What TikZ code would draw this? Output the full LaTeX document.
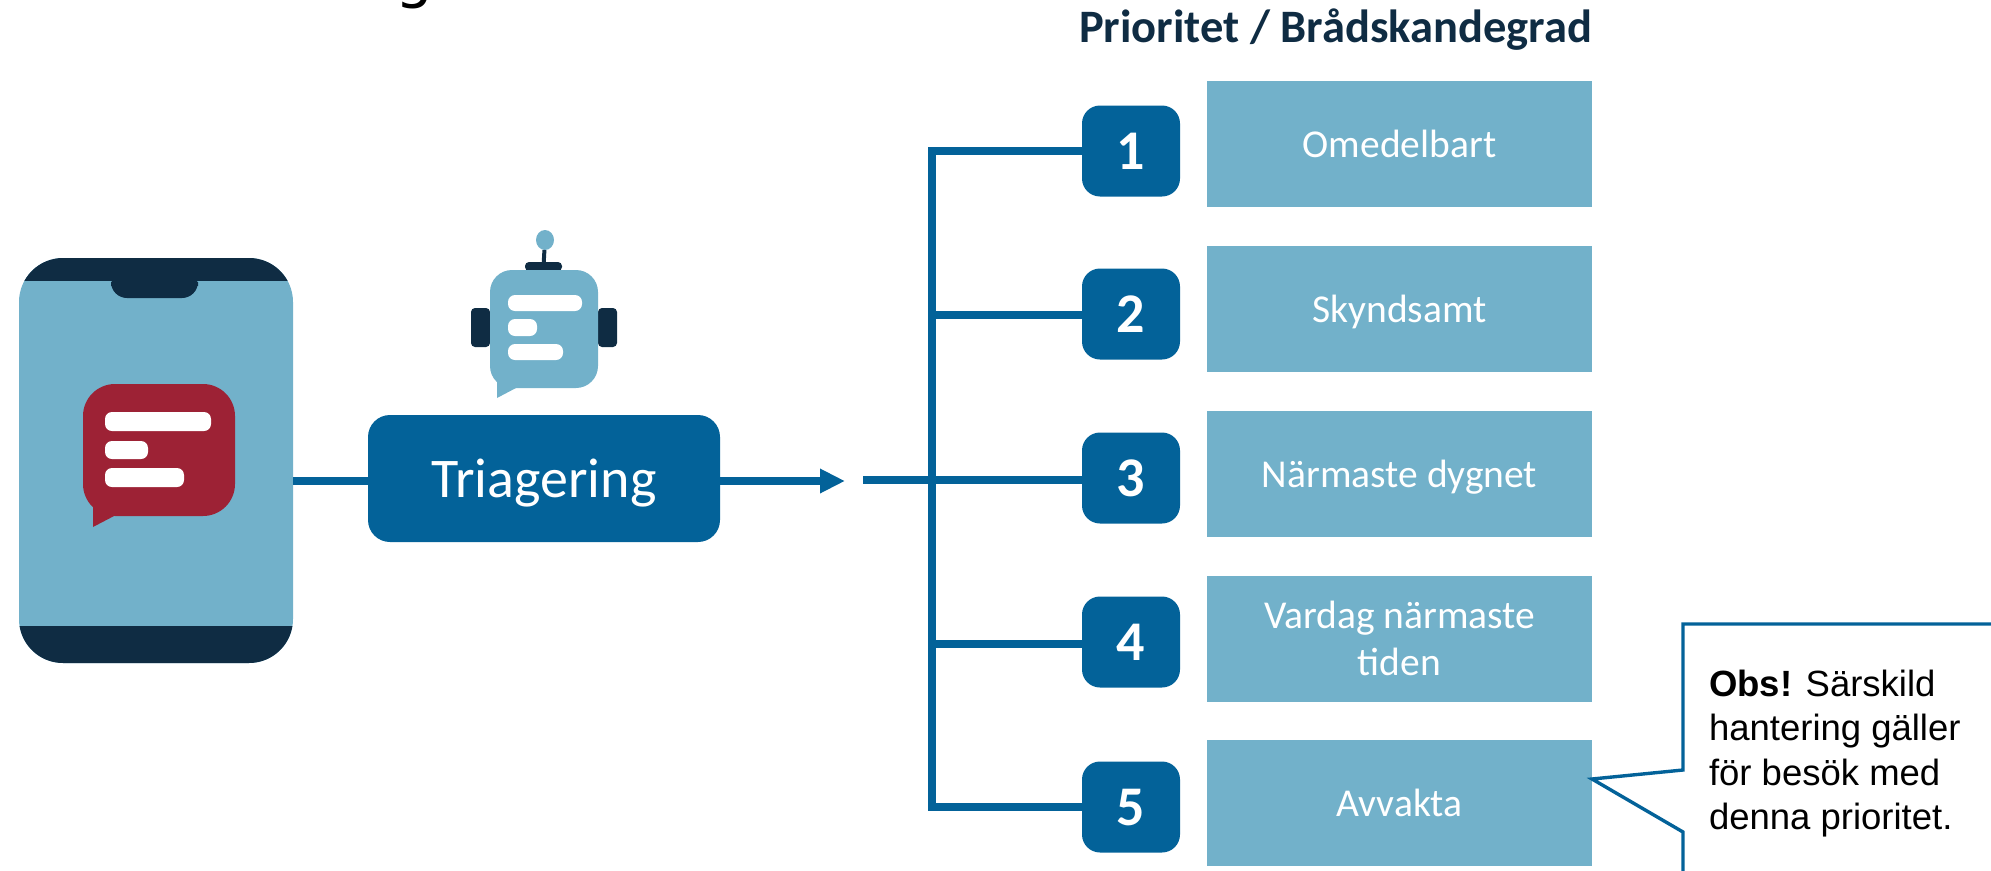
\documentclass[tikz,border=0pt]{standalone}
\usepackage{fontspec}
\setmainfont{Carlito}
\newfontfamily\noteface{Liberation Sans}
\newfontfamily\gface{DejaVu Sans}
\usepackage{xcolor}
\usetikzlibrary{arrows.meta,shapes.geometric}
\definecolor{lightblue}{HTML}{72B1CA}
\definecolor{deepblue}{HTML}{036299}
\definecolor{navy}{HTML}{0F2C43}
\definecolor{wine}{HTML}{9D2235}
\tikzset{
 shape box/.style={inner sep=0pt,outer sep=0pt},
 numbox/.style={shape box,fill=deepblue,rounded corners=18pt,minimum width=98pt,minimum height=91pt,text=white,text depth=0pt,font=\fontsize{56}{56}\selectfont\bfseries},
 prio/.style={shape box,fill=lightblue,minimum width=385pt,minimum height=126pt,text=white,text depth=0pt,align=center,font=\fontsize{39.5}{47}\selectfont},
 chatbar/.style={shape box,fill=white,rounded corners=7pt},
 link/.style={deepblue,line width=8pt},
 part/.style={shape box,fill=navy,rounded corners=4pt},
}
\begin{document}
\begin{tikzpicture}[x=1pt,y=-1pt]
\useasboundingbox (0,0) rectangle (1991,870);
\clip (0,0) rectangle (1991,870);
\node[shape box,anchor=base,font=\gface\fontsize{60}{60}\selectfont] (headg) at (415,-3) {g};
% phone
\node[shape box,fill=lightblue,rounded corners=44pt,minimum width=274pt,minimum height=405pt] (phone) at (156,460.5) {};
\begin{scope}
\clip[rounded corners=44pt] (19,258) rectangle (293,663);
\fill[navy] (0,240) rectangle (320,281);
\fill[navy] (0,626) rectangle (320,680);
\end{scope}
\fill[navy,rounded corners=16pt] (111,270) rectangle (198,298);
\fill[navy] (111,270) rectangle (198,281);
% chat
\node[shape box,fill=wine,rounded corners=32pt,minimum width=152pt,minimum height=132pt] (chat) at (159,450) {};
\fill[wine] (93,500) -- (93,527) -- (116,515) -- cycle;
\node[chatbar,minimum width=106pt,minimum height=19pt] (chatA) at (158,421.5) {};
\node[chatbar,minimum width=43pt,minimum height=18pt] (chatB) at (126.5,450) {};
\node[chatbar,minimum width=79pt,minimum height=19pt] (chatC) at (144.5,477.5) {};
% robot
\node[part,minimum width=19pt,minimum height=39pt] (earL) at (480.5,327.5) {};
\node[part,minimum width=19pt,minimum height=39pt] (earR) at (607.5,327.5) {};
\node[shape box,ellipse,fill=lightblue,minimum width=18pt,minimum height=20pt] (ball) at (545,240) {};
\node[part,minimum width=37pt,minimum height=9pt] (hat) at (543.5,266.5) {};
\draw[navy,line width=4pt] (ball) -- (hat);
\node[shape box,fill=lightblue,rounded corners=22pt,minimum width=108pt,minimum height=118pt] (robot) at (544,329) {};
\fill[lightblue] (497,374) -- (497,398) -- (516,388) -- cycle;
\node[chatbar,minimum width=74pt,minimum height=16pt] (robotA) at (545,303) {};
\node[chatbar,minimum width=29pt,minimum height=17pt] (robotB) at (522.5,327.5) {};
\node[chatbar,minimum width=55pt,minimum height=16pt] (robotC) at (535.5,352) {};
% triage
\node[shape box,fill=deepblue,rounded corners=22pt,minimum width=352pt,minimum height=127pt,text=white,text depth=0pt,font=\fontsize{56}{56}\selectfont] (triage) at (544,478.5) {Triagering};
\coordinate (tip) at (845,481);
\draw[link] (tip -| phone.east) -- (tip -| triage.west);
\draw[link,-{Triangle[length=25pt,width=23pt]}] (tip -| triage.east) -- (tip);
% priorities
\node[shape box,anchor=base east,text=navy,font=\fontsize{46.5}{46.5}\selectfont\bfseries] (head) at (1592,42) {Prioritet / Brådskandegrad};
\node[numbox] (num1) at (1131,151) {1};
\node[numbox] (num2) at (1131,314) {2};
\node[numbox] (num3) at (1131,478) {3};
\node[numbox] (num4) at (1131,642) {4};
\node[numbox] (num5) at (1131,807) {5};
\node[prio] (box1) at (1399.5,143.5) {Omedelbart};
\node[prio] (box2) at (1399.5,309) {Skyndsamt};
\node[prio] (box3) at (1399.5,474) {Närmaste dygnet};
\node[prio] (box4) at (1399.5,638.5) {Vardag närmaste\\tiden};
\node[prio] (box5) at (1399.5,803) {Avvakta};
\coordinate (bus1) at (932,151);
\coordinate (bus2) at (932,315);
\coordinate (bus3) at (863,480);
\coordinate (bus4) at (932,644);
\coordinate (bus5) at (932,807);
\draw[link,line join=miter] (num1.west) -- (bus1) -- (bus5) -- (num5.west);
\draw[link] (bus2) -- (bus2 -| num2.west);
\draw[link] (bus3) -- (bus3 -| num3.west);
\draw[link] (bus4) -- (bus4 -| num4.west);
% note
\coordinate (noteTip) at (1592,779);
\coordinate (noteA) at (1683,770);
\coordinate (noteB) at (1683,624);
\coordinate (noteC) at (2000,624);
\coordinate (noteD) at (1683,832);
\coordinate (noteE) at (1683,880);
\draw[deepblue,line width=3.4pt] (noteC) -- (noteB) -- (noteA) -- (noteTip) -- (noteD) -- (noteE);
\node[shape box,anchor=north west,align=left,font=\noteface\fontsize{36.5}{44.5}\selectfont] (note) at (1709,670) {\textbf{Obs!} Särskild\\hantering gäller\\för besök med\\denna prioritet.};
\end{tikzpicture}
\end{document}
